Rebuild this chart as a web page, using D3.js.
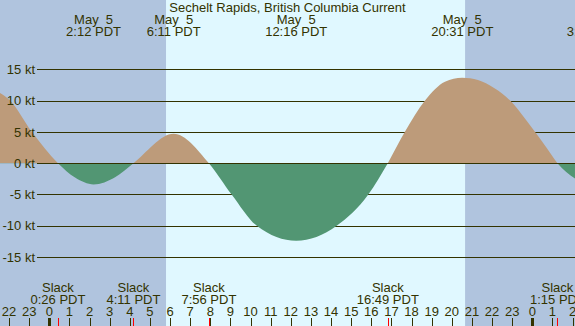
<!DOCTYPE html>
<html>
<head>
<meta charset="utf-8">
<script src="https://cdn.jsdelivr.net/npm/d3@7"></script>
<style>
	body { margin: 0; background: #fff; }
	svg { display: block; font-family: "Liberation Sans", Arial, sans-serif; font-size: 13px; }
	text { fill: #333300; white-space: pre; }
</style>
</head>
<body>
<svg id="chart" width="575" height="326"></svg>
<script>
// hours are counted from midnight May 5 (PDT)
const currentHours = [-2.45, -1.95, -0.87, 0.43, 1.28, 2.2, 3.27, 4.18, 6.18, 7.93, 9.06, 10.31, 12.27, 14.28, 15.85, 16.82, 17.67, 18.67, 19.66, 20.52, 21.3, 22.1, 22.9, 23.5, 24.13, 24.7, 25.25, 26.12]
const currentKnots = [11.2, 10, 5, 0, -2.3, -3.4, -2.25, 0, 4.7, 0, -5, -10, -12.4, -10, -5, 0, 5, 10, 13.0, 13.65, 13.3, 12.0, 10, 7.7, 5, 2.5, 0, -2.45]

const maxHours = [2.2, 6.18, 12.27, 20.52, 27.08]
const maxDates = ['May  5', 'May  5', 'May  5', 'May  5', 'May  6']
const maxTimes = ['2:12 PDT', '6:11 PDT', '12:16 PDT', '20:31 PDT', '3:05 PDT']

const slackHours = [0.43, 4.18, 7.93, 16.82, 25.25]
const slackTimes = ['0:26 PDT', '4:11 PDT', '7:56 PDT', '16:49 PDT', '1:15 PDT']

const hourTicks = [-2, -1, 0, 1, 2, 3, 4, 5, 6, 7, 8, 9, 10, 11, 12, 13, 14, 15, 16, 17, 18, 19, 20, 21, 22, 23, 24, 25, 26]
const hourLabels = ['22', '23', '0', '1', '2', '3', '4', '5', '6', '7', '8', '9', '10', '11', '12', '13', '14', '15', '16', '17', '18', '19', '20', '21', '22', '23', '0', '1', '2']

const knotTicks = [15, 10, 5, 0, -5, -10, -15]
const daylight = [5.8, 20.66]

const title = 'Sechelt Rapids, British Columbia Current'

const width = 575
const height = 326
const colors = {
	night: '#b0c4de',
	day: '#e0f8ff',
	flood: '#bd9b7a',
	ebb: '#529673',
	line: '#333300',
	slack: '#ff0000'
}

const x = d3.scaleLinear()
	.domain([-49.3 / 20.125, (width - 49.3) / 20.125])
	.range([0, width])

const y = d3.scaleLinear()
	.domain([-15, 15])
	.range([257, 69.3])

const svg = d3.select('#chart')

// night / day background
svg.append('rect')
	.attr('width', width)
	.attr('height', height)
	.attr('fill', colors.night)

svg.append('rect')
	.attr('x', x(daylight[0]))
	.attr('width', x(daylight[1]) - x(daylight[0]))
	.attr('height', height)
	.attr('fill', colors.day)

// horizontal grid
svg.append('g')
	.selectAll('line')
	.data(knotTicks.filter((k) => k !== 0))
	.enter().append('line')
		.attr('x1', 37)
		.attr('x2', width)
		.attr('y1', (k) => Math.round(y(k)) + 0.5)
		.attr('y2', (k) => Math.round(y(k)) + 0.5)
		.attr('stroke', colors.line)

// current area, split at zero into flood / ebb
const points = currentHours.map((h, i) => [h, currentKnots[i]])
const area = d3.area()
	.curve(d3.curveMonotoneX)
	.x((d) => x(d[0]))
	.y0(y(0))
	.y1((d) => y(d[1]))

const defs = svg.append('defs')
defs.append('clipPath').attr('id', 'above')
	.append('rect')
		.attr('width', width)
		.attr('height', y(0))
defs.append('clipPath').attr('id', 'below')
	.append('rect')
		.attr('y', y(0))
		.attr('width', width)
		.attr('height', height - y(0))

svg.append('path')
	.datum(points)
	.attr('d', area)
	.attr('fill', colors.flood)
	.attr('clip-path', 'url(#above)')

svg.append('path')
	.datum(points)
	.attr('d', area)
	.attr('fill', colors.ebb)
	.attr('clip-path', 'url(#below)')

svg.append('line')
	.attr('x1', 37)
	.attr('x2', width)
	.attr('y1', Math.round(y(0)) + 0.5)
	.attr('y2', Math.round(y(0)) + 0.5)
	.attr('stroke', colors.line)

// knot labels
svg.append('g')
	.selectAll('text')
	.data(knotTicks)
	.enter().append('text')
		.attr('x', 35)
		.attr('y', (k) => y(k))
		.attr('dy', '0.36em')
		.attr('text-anchor', 'end')
		.text((k) => k + ' kt')

// title
svg.append('text')
	.attr('x', width / 2)
	.attr('y', 12)
	.attr('text-anchor', 'middle')
	.text(title)

// max current labels
const maxLabels = svg.append('g')
	.selectAll('g')
	.data(maxHours)
	.enter().append('g')
		.attr('transform', (h) => 'translate(' + x(h) + ',0)')
maxLabels.append('text')
	.attr('y', 24)
	.attr('text-anchor', 'middle')
	.text((h, i) => maxDates[i])
maxLabels.append('text')
	.attr('y', 36)
	.attr('text-anchor', 'middle')
	.text((h, i) => maxTimes[i])

// slack labels
const slackLabels = svg.append('g')
	.selectAll('g')
	.data(slackHours)
	.enter().append('g')
		.attr('transform', (h) => 'translate(' + x(h) + ',0)')
slackLabels.append('text')
	.attr('y', 292)
	.attr('text-anchor', 'middle')
	.text('Slack')
slackLabels.append('text')
	.attr('y', 304)
	.attr('text-anchor', 'middle')
	.text((h, i) => slackTimes[i])

// hour axis
svg.append('g')
	.selectAll('text')
	.data(hourTicks)
	.enter().append('text')
		.attr('x', (h) => x(h))
		.attr('y', 316)
		.attr('text-anchor', 'middle')
		.text((h, i) => hourLabels[i])

svg.append('g')
	.selectAll('line')
	.data(hourTicks)
	.enter().append('line')
		.attr('x1', (h) => Math.round(x(h)) + 0.5)
		.attr('x2', (h) => Math.round(x(h)) + 0.5)
		.attr('y1', 318)
		.attr('y2', height)
		.attr('stroke', colors.line)
		.attr('stroke-width', (h, i) => hourLabels[i] === '0' ? 3 : 1)

svg.append('g')
	.selectAll('line')
	.data(slackHours)
	.enter().append('line')
		.attr('x1', (h) => Math.round(x(h)) + 0.5)
		.attr('x2', (h) => Math.round(x(h)) + 0.5)
		.attr('y1', 318)
		.attr('y2', height)
		.attr('stroke', colors.slack)
</script>
</body>
</html>
